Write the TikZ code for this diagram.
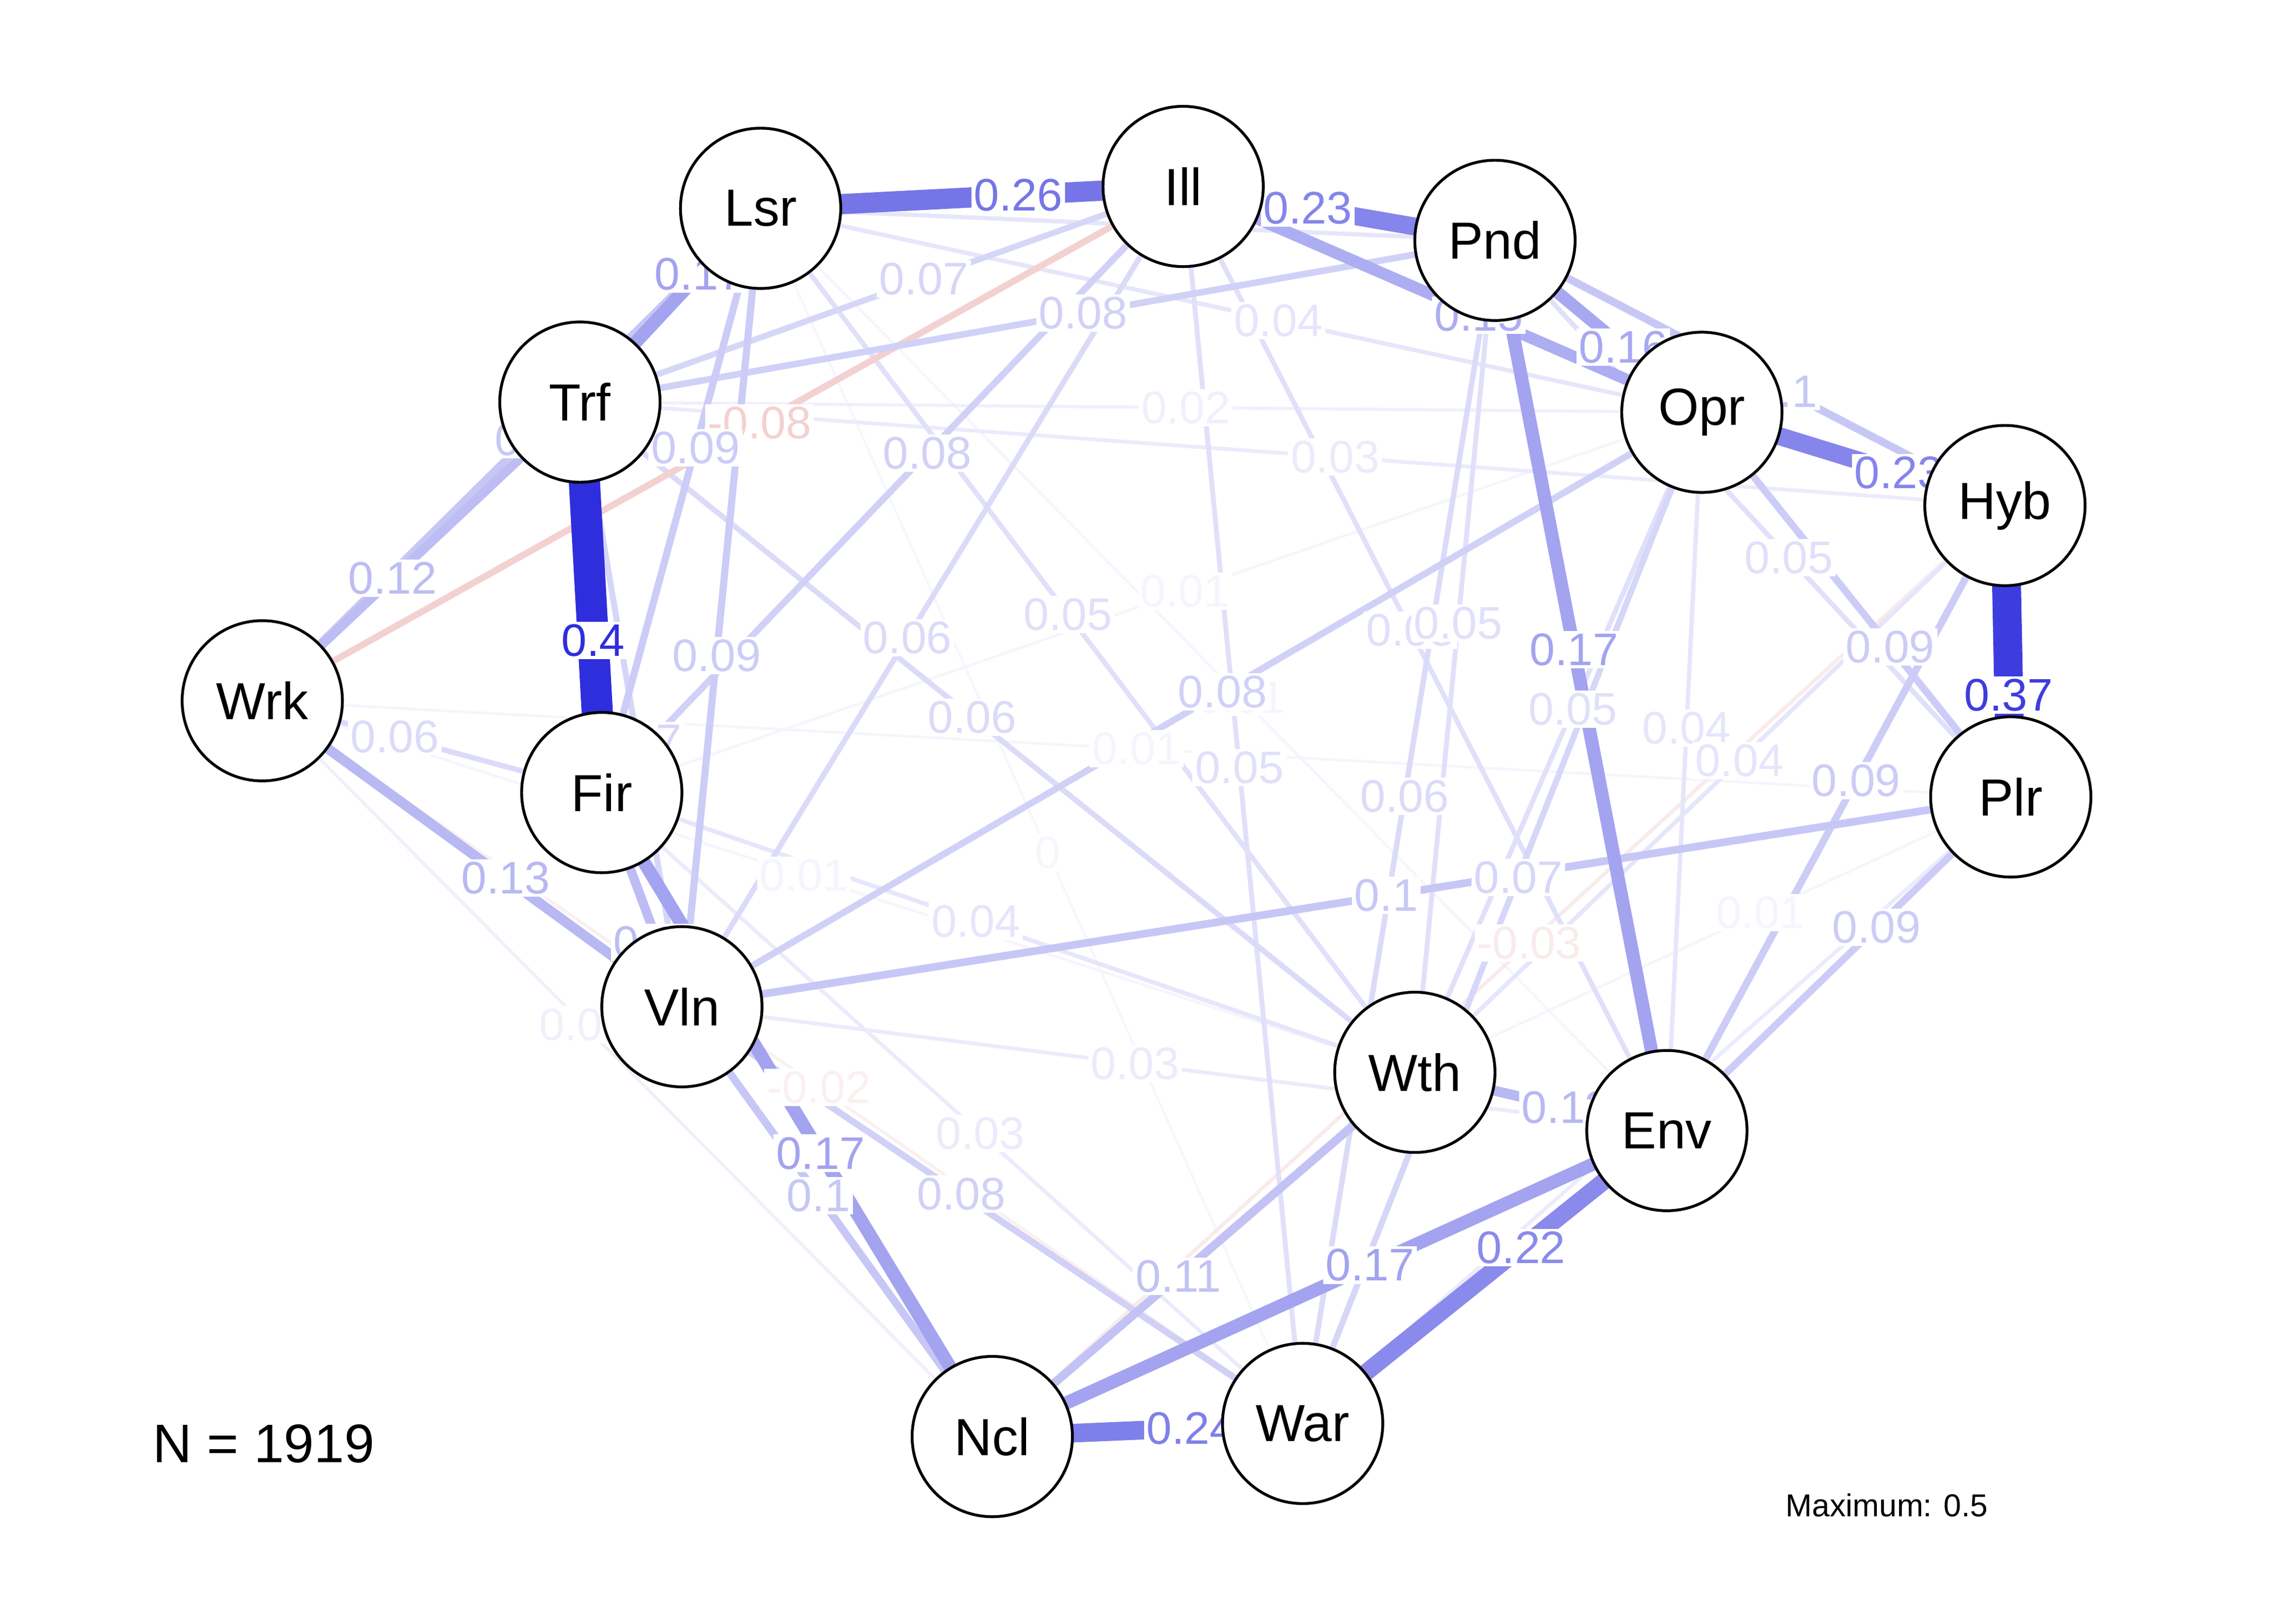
\documentclass[tikz,border=0pt]{standalone}
\usepackage{fontspec}
\setmainfont{Liberation Sans}
\definecolor{posc}{RGB}{0,0,213}
\definecolor{negc}{RGB}{191,0,0}
\pgfdeclarelayer{edgelayer}
\pgfdeclarelayer{labellayer}
\pgfsetlayers{edgelayer,labellayer,main}
\tikzset{
	vtx/.style={circle, draw, line width=0.55pt, fill=white, minimum size=1.1cm, inner sep=0pt, font=\fontsize{10.2}{12}\selectfont},
	elabel/.style={fill=white, inner sep=0.5pt, font=\fontsize{8.9}{10}\selectfont}
}
\def\edgelist{%
	Lsr/War/0.008/0/0.53/posc,
	Wrk/Plr/0.01/0.01/0.5/posc,
	Plr/Wth/0.01/0.01/0.42/posc,
	Wrk/Wth/0.01/0.01/0.47/posc,
	Fir/Opr/0.01/0.01/0.53/posc,
	Lsr/Env/0.01/0.01/0.53/posc,
	Trf/Opr/0.02/0.02/0.54/posc,
	Wrk/Ncl/0.02/0.02/0.44/posc,
	Wrk/War/0.02/-0.02/0.535/negc,
	Trf/Hyb/0.03/0.03/0.53/posc,
	Fir/War/0.03/0.03/0.54/posc,
	Vln/Env/0.03/0.03/0.46/posc,
	Plr/War/0.03/0.03/0.5/posc,
	Hyb/Ncl/0.03/-0.03/0.47/negc,
	Lsr/Opr/0.04/0.04/0.55/posc,
	Lsr/Pnd/0.04/0.04/0.58/posc,
	Opr/Env/0.04/0.04/0.44/posc,
	Hyb/Wth/0.04/0.04/0.45/posc,
	Fir/Wth/0.04/0.04/0.46/posc,
	Lsr/Wth/0.05/0.05/0.47/posc,
	Ill/Env/0.05/0.05/0.47/posc,
	Pnd/Wth/0.05/0.05/0.46/posc,
	Ill/War/0.05/0.05/0.47/posc,
	Opr/Wth/0.05/0.05/0.45/posc,
	Pnd/Plr/0.05/0.05/0.57/posc,
	Wrk/Fir/0.06/0.06/0.39/posc,
	Ill/Vln/0.06/0.06/0.55/posc,
	Trf/Wth/0.06/0.06/0.47/posc,
	Pnd/War/0.06/0.06/0.47/posc,
	Trf/Ill/0.07/0.07/0.57/posc,
	Trf/Vln/0.07/0.07/0.56/posc,
	Opr/War/0.07/0.07/0.46/posc,
	Wrk/Ill/0.08/-0.08/0.54/negc,
	Trf/Pnd/0.08/0.08/0.55/posc,
	Ill/Fir/0.08/0.08/0.44/posc,
	Vln/Opr/0.08/0.08/0.53/posc,
	Vln/War/0.08/0.08/0.45/posc,
	Fir/Lsr/0.09/0.09/0.59/posc,
	Lsr/Vln/0.09/0.09/0.56/posc,
	Opr/Plr/0.09/0.09/0.61/posc,
	Hyb/Env/0.09/0.09/0.44/posc,
	Plr/Env/0.09/0.09/0.39/posc,
	Wrk/Lsr/0.1/0.1/0.53/posc,
	Pnd/Hyb/0.1/0.1/0.57/posc,
	Vln/Plr/0.1/0.1/0.53/posc,
	Vln/Ncl/0.1/0.1/0.44/posc,
	Ncl/Wth/0.11/0.11/0.44/posc,
	Wrk/Trf/0.12/0.12/0.41/posc,
	Fir/Vln/0.12/0.12/0.7/posc,
	Wrk/Vln/0.13/0.13/0.58/posc,
	Wth/Env/0.13/0.13/0.6/posc,
	Ill/Opr/0.15/0.15/0.57/posc,
	Pnd/Opr/0.16/0.16/0.62/posc,
	Trf/Lsr/0.17/0.17/0.66/posc,
	Fir/Ncl/0.17/0.17/0.56/posc,
	Ncl/Env/0.17/0.17/0.56/posc,
	Pnd/Env/0.17/0.17/0.46/posc,
	War/Env/0.22/0.22/0.6/posc,
	Pnd/Ill/0.23/0.23/0.6/posc,
	Opr/Hyb/0.23/0.23/0.65/posc,
	Ncl/War/0.24/0.24/0.64/posc,
	Lsr/Ill/0.26/0.26/0.61/posc,
	Hyb/Plr/0.37/0.37/0.65/posc,
	Trf/Fir/0.4/0.4/0.61/posc}

\begin{document}
\begin{tikzpicture}
		\useasboundingbox (0,0) rectangle (15.6,-11.143);
		\foreach \n/\x/\y in {Lsr/5.22/-1.43, Ill/8.12/-1.28, Pnd/10.26/-1.65, Trf/3.98/-2.76, Opr/11.68/-2.83, Hyb/13.76/-3.47, Wrk/1.80/-4.81, Fir/4.13/-5.44, Plr/13.80/-5.47, Vln/4.68/-6.91, Wth/9.71/-7.36, Env/11.44/-7.76, Ncl/6.81/-9.86, War/8.94/-9.77}{
			\node[vtx] (\n) at (\x,\y) {\n};
		}
		\begin{pgfonlayer}{edgelayer}
			\foreach \a/\b/\w/\l/\p/\c in \edgelist{
				\pgfmathsetmacro\pc{min(100,200*\w+2)}
				\pgfmathsetmacro\lw{\w<0.1 ? 0.4+11*\w : 1.5+15.3*(\w-0.1)}
				\draw[line width=\lw pt, draw=\c!\pc!white] (\a.center) -- (\b.center);
			}
		\end{pgfonlayer}
		\begin{pgfonlayer}{labellayer}
			\foreach \a/\b/\w/\l/\p/\c in \edgelist{
				\pgfmathsetmacro\pc{min(100,200*\w+2)}
				\path (\a.center) -- node[elabel, pos=\p, text=\c!\pc!white]{\l} (\b.center);
			}
		\end{pgfonlayer}
		\node[font=\fontsize{10.6}{12}\selectfont] (count) at (1.81,-9.91) {N = 1919};
		\node[font=\fontsize{6.2}{7}\selectfont] (maxw) at (12.95,-10.33) {Maximum: 0.5};
	\end{tikzpicture}
\end{document}
